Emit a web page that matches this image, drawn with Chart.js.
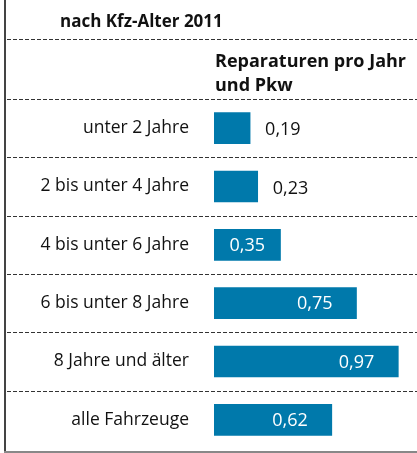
<!DOCTYPE html>
<html lang="de">
<head>
<meta charset="utf-8">
<title>Reparaturen pro Jahr und Pkw</title>
<script src="https://cdn.jsdelivr.net/npm/chart.js@4"></script>
<style>
  html, body { margin: 0; padding: 0; background: #fff; }
  canvas { display: block; }
</style>
</head>
<body>
<canvas id="chart" width="417" height="453"></canvas>
<script>
const title = 'nach Kfz-Alter 2011';
const seriesTitle = ['Reparaturen pro Jahr', 'und Pkw'];
const categories = [
  'unter 2 Jahre',
  '2 bis unter 4 Jahre',
  '4 bis unter 6 Jahre',
  '6 bis unter 8 Jahre',
  '8 Jahre und älter',
  'alle Fahrzeuge'
];
const repairs = [0.19, 0.23, 0.35, 0.75, 0.97, 0.62];

const FONT = '"Open Sans", sans-serif';
const BLUE = '#0079ab';
const fmt = v => v.toFixed(2).replace('.', ',');

function dashedLine(ctx, x1, x2, y) {
  ctx.save();
  ctx.strokeStyle = '#333';
  ctx.lineWidth = 1;
  ctx.setLineDash([4, 2]);
  ctx.beginPath();
  ctx.moveTo(x1, y + 0.5);
  ctx.lineTo(x2, y + 0.5);
  ctx.stroke();
  ctx.restore();
}

// frame, header texts and the dashed row separators
const tableFrame = {
  id: 'tableFrame',
  beforeDatasetsDraw(chart) {
    const { ctx, width, height, chartArea, scales } = chart;
    const y = scales.y;

    ctx.save();
    ctx.fillStyle = '#111';
    ctx.textBaseline = 'alphabetic';
    ctx.font = 'bold 17px ' + FONT;
    ctx.fillText(title, 60, 27);
    ctx.font = 'bold 18px ' + FONT;
    ctx.fillText(seriesTitle[0], chartArea.left + 1, 67);
    ctx.fillText(seriesTitle[1], chartArea.left + 1, 91);
    ctx.restore();

    dashedLine(ctx, 7, width, 39);
    dashedLine(ctx, 7, width, Math.round(chartArea.top));
    for (let i = 0; i < categories.length - 1; i++) {
      const yy = Math.round((y.getPixelForTick(i) + y.getPixelForTick(i + 1)) / 2);
      dashedLine(ctx, 7, width, yy);
    }

    ctx.save();
    ctx.fillStyle = '#444';
    ctx.fillRect(4, 0, 2, height);
    ctx.fillStyle = '#888';
    ctx.fillRect(4, height - 2, width, 2);
    ctx.restore();
  }
};

// value labels: outside for short bars, inside in white otherwise
const valueLabels = {
  id: 'valueLabels',
  afterDatasetsDraw(chart) {
    const { ctx } = chart;
    const meta = chart.getDatasetMeta(0);
    ctx.save();
    ctx.font = '18px ' + FONT;
    ctx.textBaseline = 'middle';
    meta.data.forEach((bar, i) => {
      const v = repairs[i];
      const len = bar.x - bar.base;
      const text = fmt(v);
      if (len < 55) {
        ctx.fillStyle = '#111';
        ctx.textAlign = 'left';
        ctx.fillText(text, bar.x + 15, bar.y + 2);
      } else if (len < 80) {
        ctx.fillStyle = '#fff';
        ctx.textAlign = 'center';
        ctx.fillText(text, (bar.x + bar.base) / 2, bar.y + 1);
      } else {
        ctx.fillStyle = '#fff';
        ctx.textAlign = 'right';
        ctx.fillText(text, bar.x - 24, bar.y + 1);
      }
    });
    ctx.restore();
  }
};

new Chart(document.getElementById('chart'), {
  type: 'bar',
  data: {
    labels: categories,
    datasets: [{
      data: repairs,
      backgroundColor: BLUE,
      borderWidth: 0,
      barThickness: 31
    }]
  },
  options: {
    indexAxis: 'y',
    responsive: false,
    animation: false,
    layout: { padding: { top: 99, bottom: 4, left: 0, right: 13 } },
    plugins: {
      legend: { display: false },
      tooltip: { enabled: false }
    },
    scales: {
      x: {
        display: false,
        min: 0,
        max: 1
      },
      y: {
        grid: { display: false },
        border: { display: false },
        afterFit(scale) {
          scale.width = 214;
          scale.paddingTop = 0;
          scale.paddingBottom = 0;
        },
        ticks: {
          color: '#111',
          padding: 17,
          font: { family: FONT, size: 17.5 }
        }
      }
    }
  },
  plugins: [tableFrame, valueLabels]
});
</script>
</body>
</html>
